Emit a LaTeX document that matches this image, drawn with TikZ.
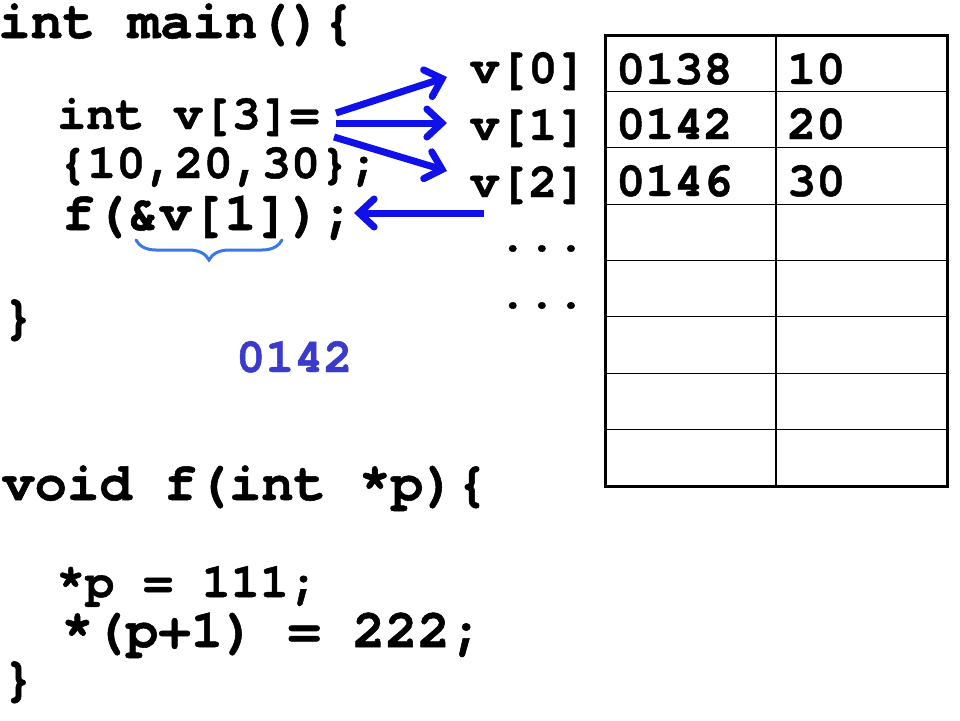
\documentclass[tikz,border=0pt]{standalone}
\usepackage{fontspec}
\setmonofont{TeX Gyre Cursor}[FakeBold=1]
\usetikzlibrary{arrows.meta,decorations.pathreplacing}
\definecolor{ptrblue}{RGB}{16,16,235}
\definecolor{bracecol}{RGB}{59,120,231}
\definecolor{passblue}{RGB}{58,58,204}
\tikzset{
  bigcode/.style={anchor=base west,inner sep=0pt,font=\ttfamily\bfseries\fontsize{54}{60}\selectfont},
  smallcode/.style={anchor=base west,inner sep=0pt,font=\ttfamily\bfseries\fontsize{48.5}{54}\selectfont},
  ptr/.style={ptrblue,line width=7pt,-{Straight Barb[length=15pt,width=28pt,line cap=round]}},
}

\begin{document}
\begin{tikzpicture}[x=1pt,y=-1pt]
\useasboundingbox (0,0) rectangle (960,720);
% main
\node[bigcode] (mainhead) at (-2,38) {int main()\{};
\node[smallcode] (decl) at (57,129) {int v[3]=};
\node[smallcode] (init) at (58,178) {\{10,20,30\};};
\node[bigcode] (call) at (62,230) {f(\&v[1]);};
\node[bigcode] (mainend) at (2,333) {\}};
\node[smallcode,text=passblue] (passed) at (236,372) {0142};
\draw[bracecol,line width=3pt,line cap=round,decorate,decoration={brace,mirror,amplitude=20pt}] (136,240) -- (282,240);
% f
\node[bigcode] (fhead) at (2,500) {void f(int *p)\{};
\node[smallcode] (set0) at (56,597) {*p = 111;};
\node[bigcode] (set1) at (61,647) {*(p+1) = 222;};
\node[bigcode] (fend) at (2,695) {\}};
% memory
\foreach \i/\y in {0/83,1/140,2/197}
  \node[smallcode] (v\i) at (470,\y) {v[\i]};
\node[smallcode] (dots0) at (498,251) {...};
\node[smallcode] (dots1) at (498,308) {...};
\foreach \k in {1,...,7}
  \draw[line width=1.2pt] (605,{35+56.375*\k}) -- (947,{35+56.375*\k});
\draw[line width=1.2pt] (776,35) -- (776,486);
\draw[line width=3pt] (605,35) rectangle (947,486);
\foreach \i/\a/\val/\y in {0/0138/10/84,1/0142/20/139,2/0146/30/196} {
  \node[smallcode] (addr\i) at (616,\y) {\a};
  \node[smallcode] (val\i) at (787,\y) {\val};
}
% arrows
\coordinate (src0) at (336,113);
\coordinate (src1) at (336,123);
\coordinate (src2) at (334,137);
\coordinate (mem) at (484,213);
\foreach \i/\dy in {0/6,1/17,2/26}
  \draw[ptr] (src\i) -- ([xshift=-23pt,yshift=\dy pt]v\i.base west);
\draw[ptr] (mem) -- (mem -| call.east);
\end{tikzpicture}
\end{document}
